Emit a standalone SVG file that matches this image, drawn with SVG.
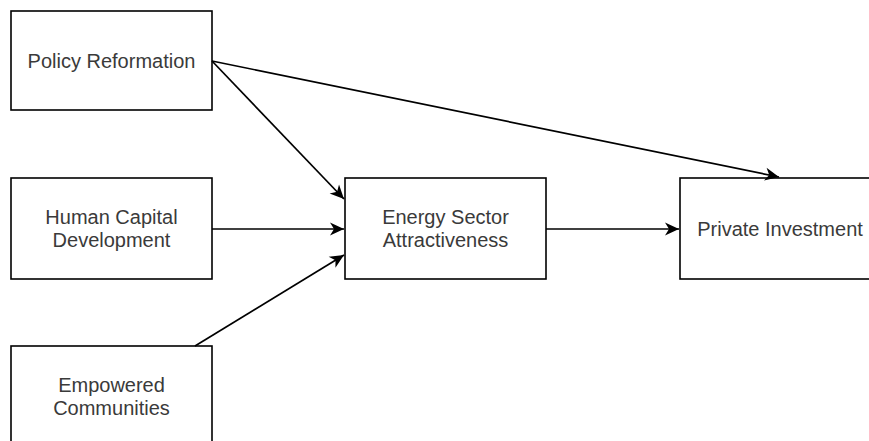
<svg xmlns="http://www.w3.org/2000/svg" width="869" height="441" viewBox="0 0 869 441">
<defs>
<style>
.box{fill:#fff;stroke:#000;stroke-width:1.6}
.lbl{font-family:"Liberation Sans",Arial,sans-serif;font-size:20px;fill:#3a3a3a;text-anchor:middle}
.edge{fill:none;stroke:#000;stroke-width:1.7;marker-end:url(#arr)}
</style>
<marker id="arr" markerUnits="userSpaceOnUse" viewBox="-15 -8 16 16" refX="0" refY="0" markerWidth="16" markerHeight="16" orient="auto">
<path d="M0,0 L-14,-6.5 L-10,0 L-14,6.5 Z" fill="#000"/>
</marker>
</defs>
<rect width="869" height="441" fill="#fff"/>
<g id="policy">
<rect class="box" x="11" y="11" width="201" height="99"/>
<text class="lbl" x="111.5" y="68">Policy Reformation</text>
</g>
<g id="human">
<rect class="box" x="11" y="178" width="201" height="101"/>
<text class="lbl" x="111.5" y="224">Human Capital</text>
<text class="lbl" x="111.5" y="247">Development</text>
</g>
<g id="empowered">
<rect class="box" x="11" y="346" width="201" height="110"/>
<text class="lbl" x="111.5" y="392">Empowered</text>
<text class="lbl" x="111.5" y="415">Communities</text>
</g>
<g id="energy">
<rect class="box" x="345" y="178" width="201" height="101"/>
<text class="lbl" x="445.5" y="224">Energy Sector</text>
<text class="lbl" x="445.5" y="247">Attractiveness</text>
</g>
<g id="private">
<rect class="box" x="680" y="178" width="200" height="101"/>
<text class="lbl" x="780" y="236">Private Investment</text>
</g>
<g id="connectors">
<path class="edge" d="M212,61 L344,199"/>
<path class="edge" d="M212,61 L779,177"/>
<path class="edge" d="M212,229 L344,229"/>
<path class="edge" d="M195,346 L344,255"/>
<path class="edge" d="M546,229 L679,229"/>
</g>
</svg>
